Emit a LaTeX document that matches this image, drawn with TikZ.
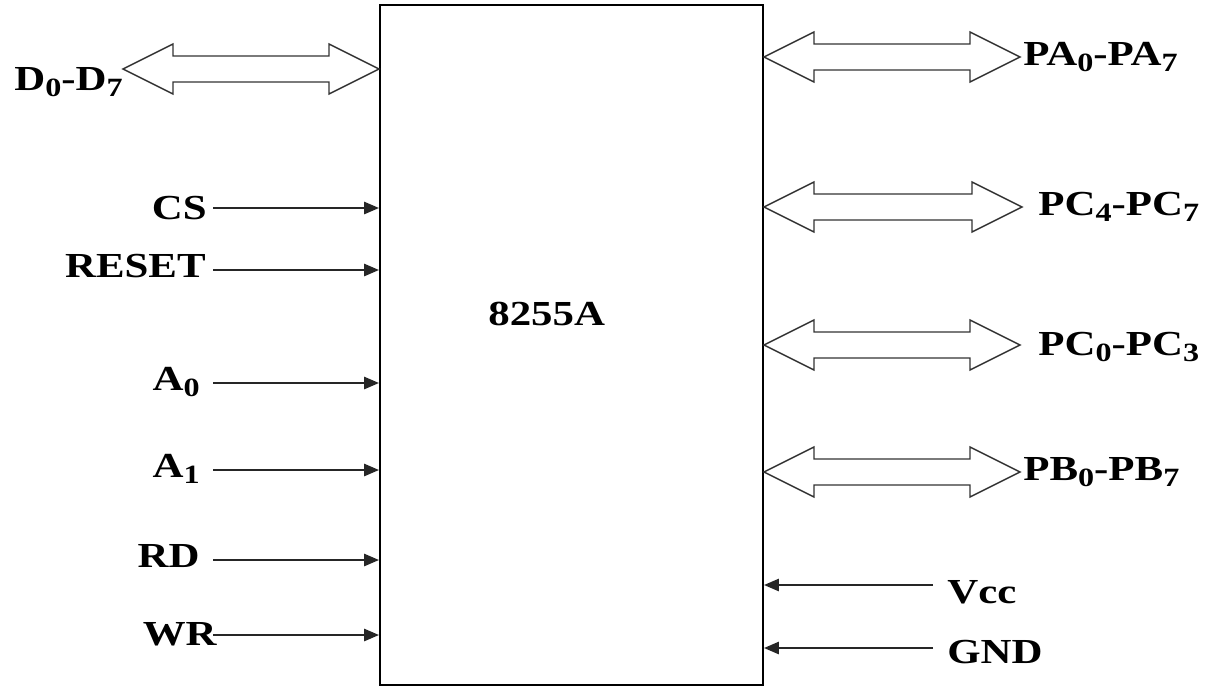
\documentclass[tikz,border=0pt]{standalone}
\usepackage{fontspec}
\setmainfont{Liberation Serif}
\usepackage{graphicx}
\usetikzlibrary{
    arrows.meta,
    positioning,
    calc
}
\newcommand{\wide}[1]{\scalebox{1.22}[1]{#1}}
\newcommand{\sub}[1]{\raisebox{-0.4ex}{\fontsize{15}{16}\selectfont #1}}
\newcommand{\busarrow}[2]{%
    \draw[busline] (#1) -- ++(50,-25) -- ++(0,12) -- ($(#2)+(-50,-13)$)
        -- ++(0,-12) -- (#2) -- ++(-50,25) -- ++(0,-12)
        -- ($(#1)+(50,13)$) -- ++(0,12) -- cycle;}

\begin{document}
\begin{tikzpicture}[
    x=0.02cm, y=-0.02cm,
    >={Triangle[length=8.5pt,width=7pt]},
    pin/.style={font=\bfseries\fontsize{20}{22}\selectfont, inner sep=0pt},
    sig/.style={->, line width=1.1pt, black!85},
    busline/.style={line width=0.8pt, black!80, line join=miter},
    chipbox/.style={draw, line width=1.2pt, minimum width=7.66cm,
        minimum height=13.6cm, inner sep=0pt}
]

\useasboundingbox (0,0) rectangle (1210,687);

\node[chipbox] (chip) at (571.5,345) {};
\node[pin, anchor=base west] (name) at (488,325) {\wide{8255A}};

% data bus and ports
\coordinate (dbT) at (123,69);
\coordinate (dbC) at (dbT -| chip.west);
\coordinate (paT) at (1020,57);
\coordinate (paC) at (paT -| chip.east);
\coordinate (pchT) at (1022,207);
\coordinate (pchC) at (pchT -| chip.east);
\coordinate (pclT) at (1020,345);
\coordinate (pclC) at (pclT -| chip.east);
\coordinate (pbT) at (1020,472);
\coordinate (pbC) at (pbT -| chip.east);

\busarrow{dbT}{dbC}
\busarrow{paC}{paT}
\busarrow{pchC}{pchT}
\busarrow{pclC}{pclT}
\busarrow{pbC}{pbT}

\node[pin, anchor=base east] (db) at (123,90) {\wide{D\sub{0}-D\sub{7}}};
\node[pin, anchor=base west] (pa) at (1023,65) {\wide{PA\sub{0}-PA\sub{7}}};
\node[pin, anchor=base west] (pch) at (1038,215) {\wide{PC\sub{4}-PC\sub{7}}};
\node[pin, anchor=base west] (pcl) at (1038,355) {\wide{PC\sub{0}-PC\sub{3}}};
\node[pin, anchor=base west] (pb) at (1023,480) {\wide{PB\sub{0}-PB\sub{7}}};

% control inputs
\coordinate (csS) at (213,208);
\coordinate (rstS) at (213,270);
\coordinate (aaS) at (213,383);
\coordinate (abS) at (213,470);
\coordinate (rdS) at (213,560);
\coordinate (wrS) at (213,635);

\node[pin, anchor=base east] (cs) at (207,219) {\wide{CS}};
\node[pin, anchor=base east] (rst) at (206,277) {\wide{RESET}};
\node[pin, anchor=base east] (aa) at (200,390) {\wide{A\sub{0}}};
\node[pin, anchor=base east] (ab) at (200,477) {\wide{A\sub{1}}};
\node[pin, anchor=base east] (rd) at (200,567) {\wide{RD}};
\node[pin, anchor=base east] (wr) at (217,645) {\wide{WR}};

\draw[sig] (csS) -- (csS -| chip.west);
\draw[sig] (rstS) -- (rstS -| chip.west);
\draw[sig] (aaS) -- (aaS -| chip.west);
\draw[sig] (abS) -- (abS -| chip.west);
\draw[sig] (rdS) -- (rdS -| chip.west);
\draw[sig] (wrS) -- (wrS -| chip.west);

% supply
\coordinate (vccS) at (933,585);
\coordinate (gndS) at (933,648);

\node[pin, anchor=base west] (vcc) at (947,603) {\wide{Vcc}};
\node[pin, anchor=base west] (gnd) at (947,663) {\wide{GND}};

\draw[sig] (vccS) -- (vccS -| chip.east);
\draw[sig] (gndS) -- (gndS -| chip.east);

\end{tikzpicture}
\end{document}
